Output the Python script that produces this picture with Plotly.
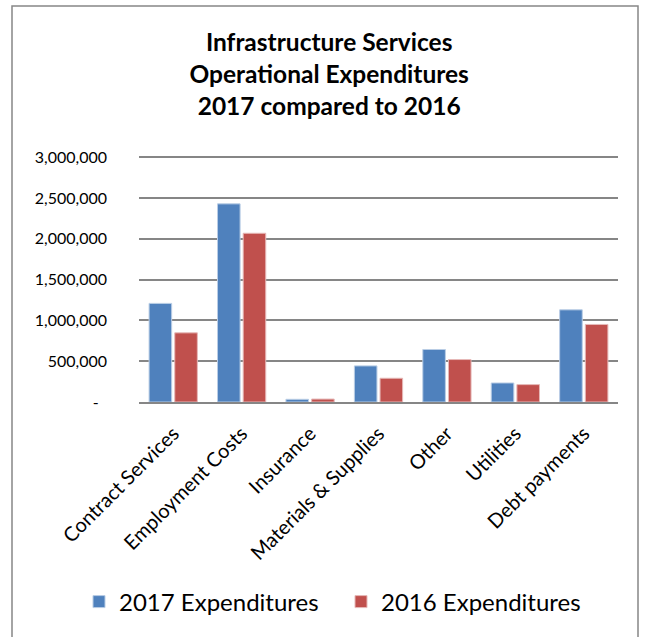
import plotly.graph_objects as go

categories = ["Contract Services", "Employment Costs", "Insurance", "Materials & Supplies",
              "Other", "Utilities", "Debt payments"]
exp_2017 = [1208000, 2427000, 33000, 442000, 643000, 233000, 1129000]
exp_2016 = [847000, 2067000, 36000, 291000, 520000, 213000, 950000]

tick_vals = [0, 500000, 1000000, 1500000, 2000000, 2500000, 3000000]
tick_text = ["-\u00a0\u00a0", "500,000", "1,000,000", "1,500,000", "2,000,000", "2,500,000", "3,000,000"]

FONT = "Lato, Carlito, Calibri, sans-serif"
W, H = 648, 637

fig = go.Figure()
fig.add_trace(go.Bar(
    name="2017 Expenditures", x=categories, y=exp_2017, legend="legend",
    marker=dict(color="#4F81BD", line=dict(color="#B9CDE5", width=1)),
))
fig.add_trace(go.Bar(
    name="2016 Expenditures", x=categories, y=exp_2016, legend="legend2",
    marker=dict(color="#C0504D", line=dict(color="#E6B9B8", width=1)),
))

legend_common = dict(
    orientation="h", xref="container", yref="container",
    xanchor="left", y=1 - 602 / H, yanchor="middle",
    font=dict(size=24, family=FONT, color="black"),
    itemwidth=30, bgcolor="rgba(0,0,0,0)",
)

fig.update_layout(
    width=W, height=H,
    margin=dict(l=139, r=30, t=153, b=235),
    paper_bgcolor="white", plot_bgcolor="white",
    font=dict(family=FONT, color="black"),
    barmode="group", bargap=0.25, bargroupgap=0.12,
    title=dict(
        text="<b>Infrastructure Services<br>Operational Expenditures<br>2017 compared to 2016</b>",
        x=0.508, xanchor="center", y=1 - 51 / H, yanchor="middle",
        font=dict(size=24.5, family=FONT, color="black"),
    ),
    showlegend=True,
    legend=dict(x=79 / W, **legend_common),
    legend2=dict(x=341 / W, **legend_common),
    xaxis=dict(
        tickangle=-45, tickfont=dict(size=20, family=FONT),
        showline=True, linecolor="#868686", linewidth=2,
        ticks="", showgrid=False, automargin=False,
        ticklabelstandoff=10,
    ),
    yaxis=dict(
        range=[0, 3050000], tickvals=tick_vals, ticktext=tick_text,
        tickfont=dict(size=16, family=FONT),
        showgrid=True, gridcolor="#868686", gridwidth=2,
        zeroline=False, showline=False, ticks="",
        ticklabelstandoff=31, automargin=False,
    ),
)

# Outer frame around the chart
fig.add_shape(
    type="rect", xref="paper", yref="paper",
    x0=(12 - 139) / 479, x1=(638 - 139) / 479,
    y0=(402 - 660) / 249, y1=(402 - 6) / 249,
    line=dict(color="#878787", width=1.5), fillcolor="rgba(0,0,0,0)",
)

fig.write_html("out.html")
